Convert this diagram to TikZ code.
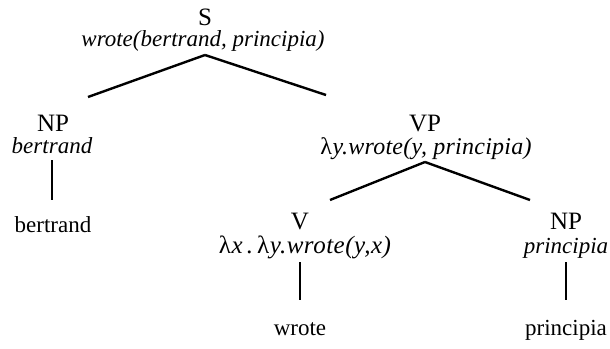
\documentclass[tikz,border=0pt]{standalone}
\usepackage{fontspec}
\setmainfont{Liberation Serif}
\usetikzlibrary{calc}
\newcommand{\lam}{{\upshape λ}\kern0.5pt}
\begin{document}
\begin{tikzpicture}[x=1pt,y=-1pt,
  cat/.style={anchor=base,inner sep=0pt,font=\fontsize{25}{27}\selectfont},
  word/.style={anchor=base,inner sep=0pt,font=\fontsize{23}{25}\selectfont},
  sem/.style={anchor=base,inner sep=0pt,font=\fontsize{23}{25}\selectfont\itshape},
  edge/.style={line width=2.4pt}]
\useasboundingbox (0,0) rectangle (610,348);
% root
\node[cat] (S) at (205,25) {S};
\node[sem] (Ssem) at (203,46) {wrote(bertrand, principia)};
% subject NP
\node[cat] (NP1) at (53,131) {NP};
\node[sem] (NP1sem) at (52,153) {bertrand};
\node[word] (w1) at (53,232) {bertrand};
% VP
\node[cat] (VP) at (425,131) {VP};
\node[sem,font=\fontsize{24}{26}\selectfont\itshape] (VPsem) at (426,154) {\addfontfeature{LetterSpace=1}\lam y.wrote(y, principia)};
% V
\node[cat] (V) at (300,229) {V};
\node[sem,font=\fontsize{25}{27}\selectfont\itshape] (Vsem) at (305,253) {\addfontfeature{LetterSpace=2}\lam x\,.\,\lam y.wrote(y,x)};
\node[word] (w2) at (300,335) {wrote};
% object NP
\node[cat] (NP2) at (566,229) {NP};
\node[sem] (NP2sem) at (566,253) {principia};
\node[word] (w3) at (566,335) {principia};
% connectors
\draw[edge] ($(Ssem.base)+(2,9)$) -- ($(NP1.base)+(35,-34)$);
\draw[edge] ($(Ssem.base)+(2,9)$) -- ($(VP.base)+(-99,-36)$);
\draw[edge] ($(NP1sem.base)+(0,7)$) -- ($(w1.base)+(-1,-32)$);
\draw[edge] ($(VPsem.base)+(-1,8)$) -- ($(V.base)+(30,-29)$);
\draw[edge] ($(VPsem.base)+(-1,8)$) -- ($(NP2.base)+(-36,-29)$);
\draw[edge] ($(Vsem.base)+(-5,9)$) -- ($(w2.base)+(0,-35)$);
\draw[edge] ($(NP2sem.base)+(0,9)$) -- ($(w3.base)+(0,-35)$);
\end{tikzpicture}
\end{document}
